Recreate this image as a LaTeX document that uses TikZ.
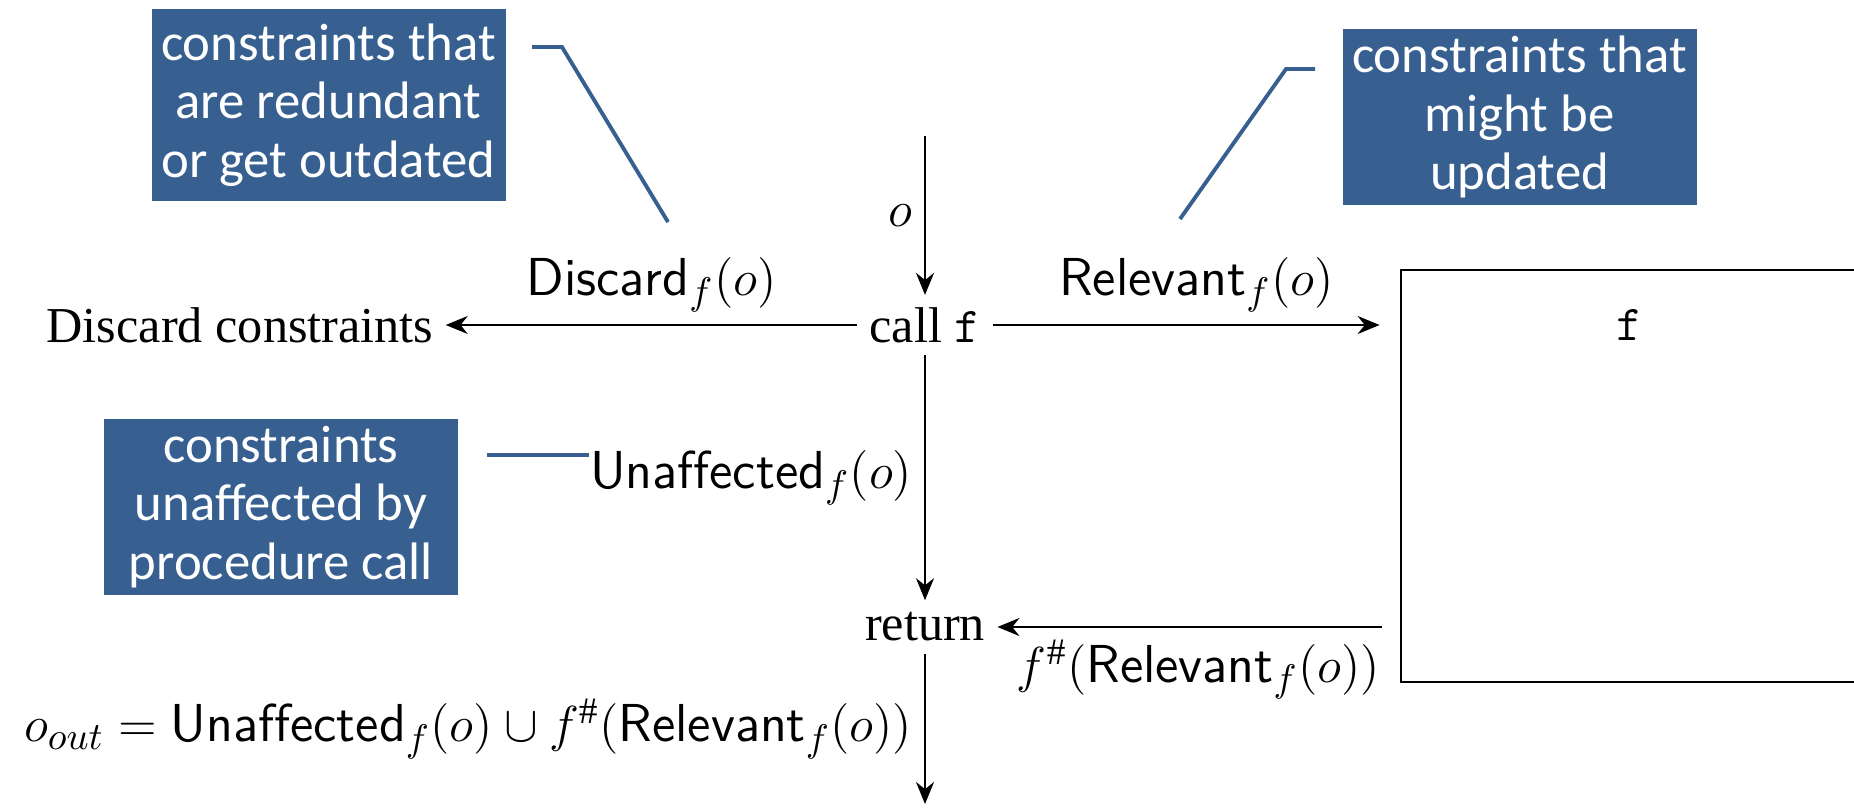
\documentclass[tikz,border=0pt]{standalone}
\usepackage{amsmath,amssymb}
\usepackage{fontspec}
\setmainfont{Liberation Serif}
\newfontfamily\notefont{Carlito}
\usetikzlibrary{arrows.meta}
\definecolor{noteblue}{RGB}{55,96,145}

\begin{document}
\begin{tikzpicture}[every node/.style={font=\fontsize{14.3}{17}\selectfont}, >={Stealth[length=2.2mm,width=1.8mm]},
	flow/.style={->, line width=0.6pt},
	lbl/.style={font=\fontsize{15.2}{18}\selectfont},
	note/.style={fill=noteblue, text=white, align=center, minimum width=3.54cm, inner sep=2pt, font=\notefont\fontsize{15}{16.6}\selectfont},
	leader/.style={draw=noteblue, line width=1.1pt},
	procbox/.style={draw, line width=0.8pt, minimum width=4.56cm, minimum height=4.12cm}]
	\useasboundingbox (0,0) rectangle (18.54,8.08);
	\node (call) at (9.25,4.83) {call \texttt{f}};
	\node (ret) at (9.25,1.81) {return};
	\node (disc) at (2.40,4.83) {Discard constraints};
	\node[procbox] (fproc) at (16.29,3.32) {};
	\node (fname) at (call -| fproc) {\texttt{f}};
	\coordinate (in) at (9.25,6.72);
	\coordinate (out) at (9.25,0.04);
	\draw[flow] (in) -- node[left, lbl] {$o$} (call);
	\draw[flow] (call) -- node[above, lbl] {$\mathsf{Discard}_f(o)$} (disc);
	\draw[flow, shorten >=0.2cm] (call) -- node[above, lbl] {$\mathsf{Relevant}_f(o)$} (call -| fproc.west);
	\draw[flow] (call) -- node[left, lbl] {$\mathsf{Unaffected}_f(o)$} (ret);
	\draw[flow, shorten <=0.18cm] (ret -| fproc.west) -- node[below, lbl] {$f^{\#}(\mathsf{Relevant}_f(o))$} (ret);
	\draw[flow] (ret) -- node[left, lbl] {$o_{out} = \mathsf{Unaffected}_f(o) \cup f^{\#}(\mathsf{Relevant}_f(o))$} (out);
	\node[note, minimum height=1.92cm] (note1) at (3.285,7.03) {constraints that\\are redundant\\or get outdated};
	\node[note, minimum height=1.68cm] (note2) at (15.195,6.91) {constraints that\\might be\\updated};
	\node[note, minimum height=1.62cm] (note3) at (2.81,3.01) {constraints\\unaffected by\\procedure call};
	\coordinate (n1a) at (5.32,7.61);
	\coordinate (n1b) at (5.62,7.61);
	\coordinate (n1c) at (6.68,5.86);
	\coordinate (n2a) at (13.15,7.39);
	\coordinate (n2b) at (12.86,7.39);
	\coordinate (n2c) at (11.80,5.89);
	\coordinate (n3a) at (4.87,3.53);
	\coordinate (n3b) at (5.89,3.53);
	\draw[leader] (n1a) -- (n1b) -- (n1c);
	\draw[leader] (n2a) -- (n2b) -- (n2c);
	\draw[leader] (n3a) -- (n3b);
\end{tikzpicture}
\end{document}
